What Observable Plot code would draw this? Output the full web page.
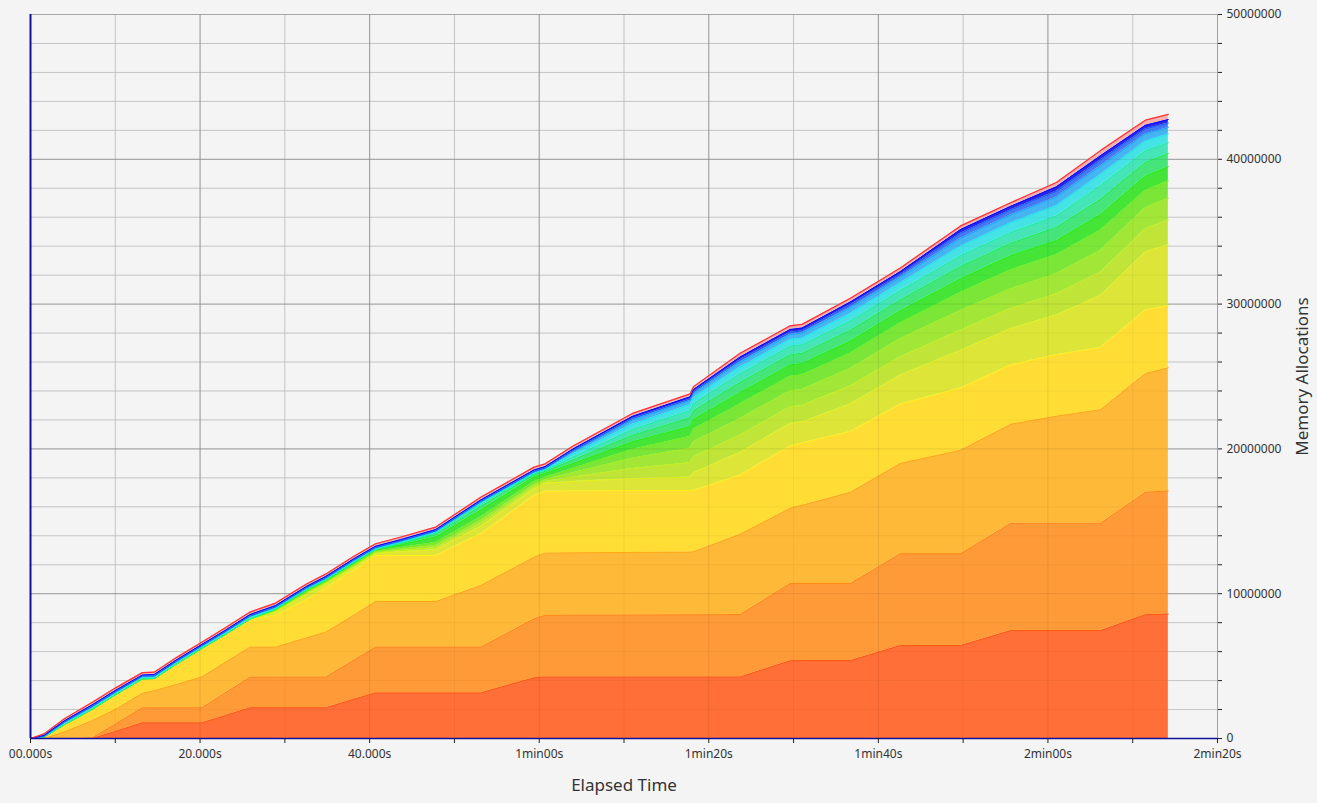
<!DOCTYPE html>
<html><head><meta charset="utf-8">
<script src="https://cdn.jsdelivr.net/npm/d3@7"></script>
<script src="https://cdn.jsdelivr.net/npm/@observablehq/plot@0.6"></script>
<style>
html,body{margin:0;padding:0;background:#f4f4f4;overflow:hidden;}
#chart{width:1317px;height:803px;}
</style></head><body><div id="chart"></div>
<script>
// elapsed time (seconds)
const times = [0, 1.6, 4, 7.3, 10, 13.2, 14.6, 17.3, 20.2, 22.8, 25.9, 28.9, 32.6, 34.8, 38.1, 40.7, 43.6, 47.8, 53.1, 59.4, 60.7, 64, 71, 77.8, 78.2, 83.7, 89.6, 91, 96.7, 102.6, 109.7, 115.6, 121, 126.2, 131.5, 134.2];

// bottom layers: cumulative top (millions of allocations)
const redOrangeTop   = [0, 0, 0, 0, 0.49, 1.08, 1.08, 1.08, 1.08, 1.55, 2.12, 2.12, 2.12, 2.12, 2.7, 3.15, 3.15, 3.15, 3.15, 4.2, 4.25, 4.25, 4.25, 4.25, 4.25, 4.25, 5.37, 5.38, 5.38, 6.42, 6.42, 7.45, 7.45, 7.45, 8.55, 8.6];
const orangeTop      = [0, 0, 0, 0.05, 1.0, 2.12, 2.12, 2.12, 2.12, 3.09, 4.24, 4.24, 4.24, 4.24, 5.4, 6.31, 6.31, 6.31, 6.31, 8.27, 8.5, 8.52, 8.53, 8.54, 8.54, 8.56, 10.7, 10.7, 10.7, 12.76, 12.76, 14.86, 14.86, 14.86, 17.0, 17.1];
const lightOrangeTop = [0, 0, 0.45, 1.24, 2.0, 3.12, 3.3, 3.75, 4.24, 5.2, 6.31, 6.31, 6.96, 7.34, 8.5, 9.46, 9.46, 9.46, 10.57, 12.52, 12.8, 12.82, 12.85, 12.87, 12.9, 14.1, 15.9, 16.1, 17.0, 19.0, 19.9, 21.7, 22.26, 22.7, 25.2, 25.6];
const yellowTop      = [0, 0.1, 0.95, 2.0, 3.0, 4.1, 4.12, 5.15, 6.2, 7.1, 8.2, 8.5, 9.6, 10.4, 11.6, 12.64, 12.64, 12.64, 14.14, 16.78, 17.08, 17.1, 17.12, 17.13, 17.13, 18.2, 20.2, 20.4, 21.2, 23.1, 24.2, 25.8, 26.5, 27.0, 29.6, 29.9];

// upper layers: thickness (millions)
const yellowGreen = [0, 0, 0.01, 0.02, 0.02, 0.02, 0.02, 0.02, 0.02, 0.02, 0.05, 0.25, 0.35, 0.25, 0.20, 0.15, 0.25, 0.39, 0.50, 0.45, 0.55, 0.65, 0.83, 0.92, 1.22, 1.55, 1.55, 1.45, 1.90, 2.00, 2.60, 2.50, 2.75, 3.60, 4.00, 4.20];
const lime1 = [0, 0, 0, 0, 0, 0, 0, 0, 0, 0, 0, 0.06, 0.10, 0.08, 0.08, 0.06, 0.10, 0.15, 0.20, 0.15, 0.12, 0.30, 0.70, 1.00, 1.10, 1.20, 1.15, 1.15, 1.25, 1.25, 1.40, 1.40, 1.45, 1.60, 1.60, 1.70];
const lime2 = [0, 0, 0, 0, 0, 0, 0, 0, 0, 0, 0, 0.03, 0.05, 0.05, 0.06, 0.04, 0.08, 0.15, 0.20, 0.15, 0.12, 0.30, 0.70, 1.00, 1.05, 1.15, 1.10, 1.10, 1.20, 1.25, 1.35, 1.35, 1.40, 1.50, 1.45, 1.50];
const lime3 = [0, 0, 0, 0, 0, 0, 0, 0, 0, 0, 0, 0.03, 0.05, 0.05, 0.06, 0.05, 0.10, 0.20, 0.25, 0.20, 0.15, 0.30, 0.60, 0.80, 0.85, 1.00, 1.00, 1.00, 1.05, 1.10, 1.25, 1.30, 1.30, 1.40, 1.20, 1.20];
const green = [0, 0, 0, 0, 0, 0, 0, 0, 0, 0, 0, 0.04, 0.08, 0.07, 0.10, 0.08, 0.20, 0.40, 0.50, 0.35, 0.30, 0.35, 0.55, 0.70, 0.70, 0.80, 0.80, 0.80, 0.85, 0.85, 0.95, 1.00, 1.00, 1.10, 1.00, 1.00];
const greenCyan = [0, 0, 0, 0, 0, 0, 0, 0, 0, 0, 0, 0.02, 0.03, 0.03, 0.04, 0.02, 0.08, 0.17, 0.25, 0.15, 0.12, 0.25, 0.45, 0.60, 0.60, 0.70, 0.70, 0.70, 0.75, 0.75, 0.85, 0.85, 0.90, 1.05, 0.95, 0.90];
const aqua = [0, 0, 0, 0, 0, 0, 0, 0, 0, 0, 0, 0.02, 0.03, 0.02, 0.03, 0.01, 0.05, 0.10, 0.17, 0.06, 0.08, 0.20, 0.40, 0.50, 0.50, 0.60, 0.60, 0.60, 0.65, 0.65, 0.75, 0.75, 0.80, 0.95, 0.80, 0.75];
const cyan = [0, 0.03, 0.11, 0.13, 0.12, 0.12, 0.12, 0.12, 0.12, 0.12, 0.14, 0.06, 0.06, 0.06, 0.06, 0.06, 0.06, 0.06, 0.07, 0.07, 0.07, 0.20, 0.35, 0.40, 0.40, 0.45, 0.45, 0.45, 0.50, 0.50, 0.65, 0.65, 0.70, 0.75, 0.65, 0.60];
const skyBlue = [0, 0.02, 0.04, 0.05, 0.05, 0.04, 0.04, 0.05, 0.04, 0.05, 0.05, 0.05, 0.05, 0.05, 0.05, 0.05, 0.05, 0.05, 0.05, 0.05, 0.05, 0.18, 0.30, 0.30, 0.30, 0.35, 0.35, 0.35, 0.40, 0.40, 0.55, 0.55, 0.60, 0.60, 0.50, 0.45];
const lightBlue = [0, 0.02, 0.03, 0.04, 0.03, 0.03, 0.03, 0.03, 0.03, 0.03, 0.03, 0.03, 0.03, 0.03, 0.03, 0.03, 0.03, 0.03, 0.04, 0.04, 0.04, 0.05, 0.10, 0.10, 0.10, 0.15, 0.15, 0.15, 0.20, 0.20, 0.35, 0.35, 0.40, 0.40, 0.35, 0.30];
const blue = [0, 0.05, 0.08, 0.09, 0.09, 0.08, 0.09, 0.09, 0.08, 0.09, 0.09, 0.09, 0.09, 0.09, 0.09, 0.09, 0.09, 0.09, 0.10, 0.10, 0.10, 0.12, 0.15, 0.15, 0.15, 0.20, 0.20, 0.20, 0.20, 0.20, 0.25, 0.25, 0.30, 0.30, 0.25, 0.25];
const red = [0, 0.10, 0.15, 0.17, 0.17, 0.16, 0.16, 0.16, 0.16, 0.17, 0.17, 0.17, 0.17, 0.17, 0.17, 0.17, 0.17, 0.17, 0.19, 0.19, 0.19, 0.20, 0.20, 0.20, 0.20, 0.25, 0.25, 0.25, 0.25, 0.25, 0.25, 0.25, 0.30, 0.35, 0.35, 0.35];

// axis ticks
const xMajor = [0, 20, 40, 60, 80, 100, 120, 140];
const xMajorLabels = ["00.000s", "20.000s", "40.000s", "1min00s", "1min20s", "1min40s", "2min00s", "2min20s"];
const xMinor = [10, 30, 50, 70, 90, 110, 130];
const yMajor = [0, 10, 20, 30, 40, 50];
const yMinor = [2, 4, 6, 8, 12, 14, 16, 18, 22, 24, 26, 28, 32, 34, 36, 38, 42, 44, 46, 48];

const cumulativeLayers = [
  {top: redOrangeTop,   fill: "#ff6f37", stroke: "#ff5a12"},
  {top: orangeTop,      fill: "#ff9a38", stroke: "#ff8a14"},
  {top: lightOrangeTop, fill: "#ffb938", stroke: "#ffa814"},
  {top: yellowTop,      fill: "#ffdd35", stroke: "#fff01a"}
];
const thicknessLayers = [
  {values: yellowGreen, fill: "#dde538", stroke: "#e4f21a"},
  {values: lime1,       fill: "#c0e538", stroke: "#c4f01a"},
  {values: lime2,       fill: "#a2e638", stroke: "#a2f01a"},
  {values: lime3,       fill: "#7be638", stroke: "#72f01a"},
  {values: green,       fill: "#45e538", stroke: "#22f01a"},
  {values: greenCyan,   fill: "#45e57c", stroke: "#1af05c"},
  {values: aqua,        fill: "#45e5b8", stroke: "#1af0ac"},
  {values: cyan,        fill: "#45e3e6", stroke: "#1ae6f0"},
  {values: skyBlue,     fill: "#45b5f2", stroke: "#1aa4ff"},
  {values: lightBlue,   fill: "#4578f2", stroke: "#1a5cff"},
  {values: blue,        fill: "#2626ee", stroke: "#0a0aff"},
  {values: red,         fill: "#f6b0b0", stroke: "#ff3030"}
];

const layers = [];
let prev = times.map(() => 0);
for (const L of cumulativeLayers) {
  const rows = times.map((t, i) => ({t, y1: prev[i], y2: L.top[i]}));
  layers.push({rows, fill: L.fill, stroke: L.stroke});
  prev = L.top;
}
for (const L of thicknessLayers) {
  const top = prev.map((p, i) => p + L.values[i]);
  const rows = times.map((t, i) => ({t, y1: prev[i], y2: top[i]}));
  layers.push({rows, fill: L.fill, stroke: L.stroke});
  prev = top;
}

const areaMarks = layers.map(L => Plot.area(L.rows, {x1: "t", y1: "y1", y2: "y2", fill: L.fill, curve: "linear"}));
const lineMarks = layers.map((L, k) => Plot.line(L.rows, {x: "t", y: "y2", stroke: L.stroke, strokeWidth: k === layers.length - 1 ? 1.2 : 1, curve: "linear"}));

const chart = Plot.plot({
  width: 1317,
  height: 803,
  marginLeft: 30,
  marginRight: 100,
  marginTop: 14,
  marginBottom: 65,
  x: {domain: [0, 140], axis: null, label: null},
  y: {domain: [0, 50], axis: null, label: null},
  style: {background: "#f4f4f4", fontFamily: "'Noto Sans', sans-serif", fontSize: "12px", color: "#333"},
  marks: [
    Plot.gridX(xMinor, {stroke: "#cdcdcd", strokeOpacity: 1}),
    Plot.gridY(yMinor, {stroke: "#cdcdcd", strokeOpacity: 1}),
    Plot.gridX(xMajor.slice(1, -1), {stroke: "#a6a6a6", strokeOpacity: 1}),
    Plot.gridY(yMajor.slice(1), {stroke: "#a6a6a6", strokeOpacity: 1}),
    ...areaMarks,
    ...lineMarks,
    Plot.gridX(xMinor, {stroke: "#000", strokeOpacity: 0.04}),
    Plot.gridY(yMinor, {stroke: "#000", strokeOpacity: 0.04}),
    Plot.gridX(xMajor.slice(1, -1), {stroke: "#000", strokeOpacity: 0.09}),
    Plot.gridY(yMajor.slice(1, -1), {stroke: "#000", strokeOpacity: 0.09}),
    Plot.ruleX([140], {stroke: "#a0a0a0"}),
    Plot.ruleX([0], {stroke: "#10109a", strokeWidth: 2}),
    Plot.ruleY([0], {stroke: "#10109a", strokeWidth: 1.5}),
    Plot.axisX(xMajor, {label: null, tickSize: 5, tickPadding: 6, stroke: "#222", fill: "#333", fontSize: 12,
      tickFormat: d => xMajorLabels[xMajor.indexOf(d)]}),
    Plot.axisX(xMinor, {label: null, tickSize: 5, stroke: "#222", tickFormat: () => ""}),
    Plot.axisY(yMajor, {label: null, anchor: "right", tickSize: 4, tickPadding: 5, stroke: "#222", fill: "#333", fontSize: 12,
      tickFormat: d => String(d * 1000000)}),
    Plot.axisY(yMinor, {label: null, anchor: "right", tickSize: 4, stroke: "#222", tickFormat: () => ""}),
    Plot.text(["Elapsed Time"], {frameAnchor: "bottom", lineAnchor: "middle", textAnchor: "middle", dy: 47, fontSize: 17, fill: "#333"}),
    Plot.text(["Memory Allocations"], {frameAnchor: "right", textAnchor: "middle", lineAnchor: "middle", dx: 85, rotate: -90, fontSize: 17, fill: "#333"})
  ]
});
document.getElementById("chart").appendChild(chart);
</script>
</body></html>
